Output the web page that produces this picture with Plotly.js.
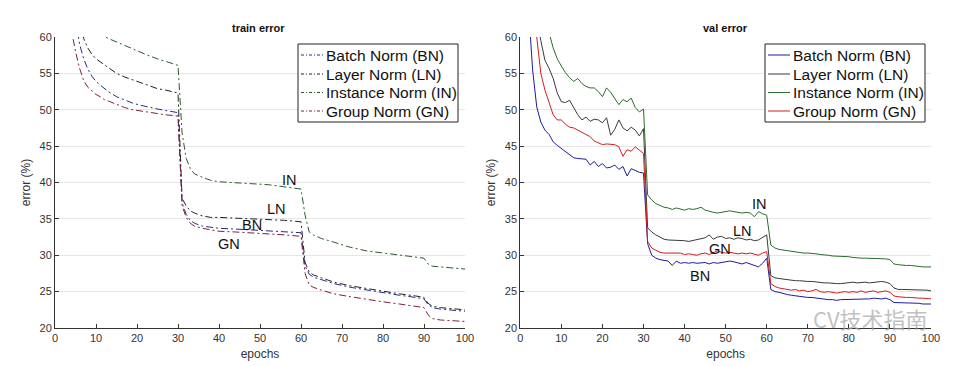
<!DOCTYPE html>
<html>
<head>
<meta charset="utf-8">
<script src="https://cdn.plot.ly/plotly-3.0.1.min.js"></script>
<style>html,body{margin:0;padding:0;background:#fff;}#chart{width:964px;height:366px;}</style>
</head>
<body>
<div id="chart"></div>
<script>
// ---------- train error ----------
const trainEpochs = [2,3,4,5,6,7,8,9,10,11,12,13,15,17,19,21,23,25,27,29,30,31,32,33,34,36,38,40,44,48,52,56,60,61,62,63,65,68,72,76,80,84,88,90,91,92,94,97,100];
const trainBN = [75,70,66,62.5,59.0,57.0,55.6,54.6,53.9,53.4,52.9,52.5,51.8,51.3,50.9,50.6,50.3,50.1,49.9,49.7,49.6,37.2,35.6,34.8,34.4,34.0,33.8,33.7,33.6,33.5,33.4,33.3,33.1,28.5,27.4,27.0,26.6,26.1,25.6,25.2,24.8,24.5,24.2,24.0,23.2,22.8,22.6,22.4,22.3];
const trainLN = [85,78,72,67,63,59.8,58.5,57.6,57.0,56.6,56.2,55.8,55.0,54.5,54.1,53.6,53.2,52.9,52.7,52.4,52.3,37.8,36.8,36.1,35.8,35.4,35.2,35.2,35.1,35.1,34.9,34.8,34.6,29.0,27.7,27.3,26.9,26.3,25.8,25.4,25.0,24.7,24.4,24.2,23.4,23.0,22.8,22.6,22.5];
const trainIN = [72,70,67.5,66,64.5,63.5,62.5,61.7,61.0,60.5,60.1,59.8,59.3,58.8,58.3,57.9,57.4,57.0,56.6,56.3,56.1,46.8,43.3,41.9,41.2,40.7,40.3,40.1,40.0,39.9,39.7,39.4,39.1,35.5,33.2,32.8,32.3,31.8,31.1,30.6,30.3,30.1,29.8,29.6,28.8,28.5,28.4,28.2,28.1];
const trainGN = [72,66,61,58.0,55.7,54.0,53.1,52.6,52.1,51.8,51.4,51.2,50.7,50.3,50.0,49.8,49.6,49.4,49.3,49.2,49.1,36.8,35.2,34.4,34.0,33.7,33.5,33.3,33.2,33.1,33.0,32.8,32.6,27.5,25.9,25.6,25.2,24.7,24.3,23.9,23.6,23.3,23.0,22.8,21.8,21.3,21.1,21.0,20.9];

// ---------- val error ----------
const valEpochs = Array.from({length:100},(_, i) => i + 1);
const valBN = [75,64,55.5,50.4,48.3,47.2,46.6,45.6,45.1,44.7,44.3,43.9,43.4,43.3,43.3,43.2,42.4,42.9,42.2,42.6,42.0,42.1,42.4,41.8,42.2,40.9,41.9,41.6,41.4,41.3,
 31.6,30.0,29.6,29.4,29.3,29.2,28.6,29.2,28.9,29.0,28.9,29.0,28.9,29.0,29.0,28.8,29.0,28.9,29.0,29.1,29.2,29.1,28.9,28.8,29.0,28.8,28.5,28.4,28.9,29.6,
 25.3,25.0,24.9,24.7,24.6,24.5,24.4,24.4,24.3,24.2,24.2,24.1,24.1,24.0,23.9,23.9,23.8,23.9,23.9,23.9,24.0,24.0,23.9,24.0,24.0,24.1,24.0,24.0,24.1,23.9,
 23.5,23.5,23.4,23.4,23.4,23.4,23.4,23.3,23.3,23.3];
const valLN = [85,76,68,63,59.5,56.8,55.7,54.3,52.3,51.1,51.0,51.3,50.3,49.3,48.6,49.0,48.4,48.7,48.6,48.2,48.9,46.5,47.3,48.6,47.5,47.1,47.6,47.2,46.4,47.4,
 33.8,33.2,32.8,32.5,32.2,32.1,32.1,32.0,32.0,32.0,31.9,32.0,32.2,32.3,32.4,32.8,32.2,32.5,32.6,32.3,32.4,32.2,32.4,32.3,32.1,32.2,32.0,32.1,32.4,32.8,
 27.2,26.9,26.8,26.7,26.6,26.6,26.5,26.5,26.4,26.4,26.4,26.3,26.3,26.2,26.2,26.1,26.1,26.1,26.2,26.2,26.3,26.2,26.3,26.3,26.2,26.3,26.3,26.4,26.3,26.1,
 25.5,25.3,25.3,25.3,25.3,25.3,25.3,25.2,25.2,25.1];
const valIN = [90,82,76,71,67,63.5,60.6,58.5,57.0,56.0,55.1,54.4,53.9,54.3,53.6,53.2,53.0,53.0,52.5,51.8,53.0,52.4,51.5,50.7,51.4,51.1,51.6,50.3,49.7,50.1,
 38.3,37.6,37.1,36.8,36.6,36.5,36.3,36.5,36.3,36.2,36.4,36.3,36.4,36.6,36.2,36.0,35.9,35.8,35.9,36.0,36.1,36.0,35.9,35.8,35.9,35.8,35.3,36.0,35.7,35.5,
 31.4,31.0,30.8,30.7,30.6,30.5,30.5,30.4,30.3,30.3,30.3,30.2,30.1,30.1,30.0,29.9,29.9,29.9,29.8,29.8,29.7,29.6,29.6,29.6,29.6,29.6,29.6,29.6,29.5,29.4,
 28.8,28.7,28.6,28.6,28.6,28.5,28.5,28.4,28.4,28.4];
const valGN = [80,72,65,60,55.0,52.7,51.0,49.3,48.6,48.6,48.0,47.6,47.5,47.2,47.0,46.7,46.3,45.7,45.4,45.2,45.3,45.3,45.2,44.9,43.6,44.5,44.3,44.9,44.4,44.0,
 31.9,31.0,30.7,30.4,30.3,30.3,30.2,30.2,30.3,30.1,30.2,30.1,30.0,30.2,30.3,30.1,30.4,30.6,30.4,30.3,30.4,30.3,30.2,30.3,30.2,30.3,30.1,30.0,30.3,30.5,
 26.1,25.7,25.5,25.4,25.3,25.2,25.3,25.1,25.2,25.0,25.1,25.3,25.0,24.9,25.0,24.9,24.8,24.9,25.0,24.9,25.0,24.9,25.1,24.9,25.0,25.1,24.9,25.0,25.1,24.9,
 24.4,24.3,24.2,24.2,24.2,24.1,24.1,24.1,24.1,24.0];

const seriesNames = ['Batch Norm (BN)','Layer Norm (LN)','Instance Norm (IN)','Group Norm (GN)'];
const shortNames = ['BN','LN','IN','GN'];
const yTicks = [20,25,30,35,40,45,50,55,60];
const xTicks = [0,10,20,30,40,50,60,70,80,90,100];

// ---------- styling ----------
const W = 964, H = 366, ML = 55, MR = 33, MT = 37, MB = 38;
const PW = W - ML - MR, PH = H - MT - MB;
const px = v => (v - ML) / PW;          // pixel -> paper x
const py = v => (H - MB - v) / PH;      // pixel -> paper y

const colors = ['#1c1c9c','#3a3a3a','#2c6b2c','#d41c1c'];
const trainColors = ['#2a2a80','#222222','#2c5a2c','#7a2040'];
const trainDash = '7px,3px,2px,3px';

const trainSeries = [trainBN, trainLN, trainIN, trainGN];
const valSeries = [valBN, valLN, valIN, valGN];

const traces = [];
trainSeries.forEach((ys, i) => traces.push({
  x: trainEpochs, y: ys, type: 'scatter', mode: 'lines', name: seriesNames[i],
  line: {color: trainColors[i], width: 1, dash: trainDash}, xaxis: 'x', yaxis: 'y'
}));
valSeries.forEach((ys, i) => traces.push({
  x: valEpochs, y: ys, type: 'scatter', mode: 'lines', name: seriesNames[i],
  line: {color: colors[i], width: 1}, xaxis: 'x2', yaxis: 'y2'
}));

const FAM = 'Liberation Sans, Arial, sans-serif';
const tickFont = {family: FAM, size: 11, color: '#333'};
function xAxis(domain, anchor) {
  return {domain: domain, anchor: anchor, range: [0, 100], tickvals: xTicks, ticks: 'inside', ticklen: 4,
    tickcolor: '#333', showline: true, linecolor: '#333', linewidth: 1, showgrid: false, zeroline: false,
    tickfont: tickFont, title: {text: 'epochs', font: {family: FAM, size: 12, color: '#333'}, standoff: 6}};
}
function yAxis(anchor) {
  return {anchor: anchor, range: [20, 60], tickvals: yTicks, ticks: 'inside', ticklen: 4,
    tickcolor: '#333', showline: true, linecolor: '#333', linewidth: 1, showgrid: true, gridcolor: '#e6e6e6',
    zeroline: false, tickfont: tickFont,
    title: {text: 'error (%)', font: {family: FAM, size: 12, color: '#333'}, standoff: 6}};
}

const annFont = {family: FAM, size: 14.5, color: '#111'};
const trainLabelPos = [[48.0,34.2],[54.1,36.4],[57.3,40.4],[42.5,31.6]];
const valLabelPos = [[43.8,27.1],[54.0,33.4],[58.2,37.1],[48.7,30.8]];

const annotations = [];
const shapes = [];
shortNames.forEach((t, i) => {
  annotations.push({x: trainLabelPos[i][0], y: trainLabelPos[i][1], xref: 'x', yref: 'y', text: t, showarrow: false, font: annFont});
  annotations.push({x: valLabelPos[i][0], y: valLabelPos[i][1], xref: 'x2', yref: 'y2', text: t, showarrow: false, font: annFont});
});
annotations.push({x: px(258), y: py(28), xref: 'paper', yref: 'paper', xanchor: 'center', yanchor: 'middle', text: '<b>train error</b>', showarrow: false,
  font: {family: FAM, size: 11, color: '#111'}});
annotations.push({x: px(725), y: py(28), xref: 'paper', yref: 'paper', xanchor: 'center', yanchor: 'middle', text: '<b>val error</b>', showarrow: false,
  font: {family: FAM, size: 11, color: '#111'}});
annotations.push({x: px(870), y: py(318), xref: 'paper', yref: 'paper', xanchor: 'center', yanchor: 'middle', text: 'CV技术指南', showarrow: false,
  font: {family: 'Noto Sans CJK SC', size: 22, color: 'rgba(165,165,165,0.7)'}});

// ---------- hand-built legends (MATLAB style boxes) ----------
const legendRows = [55, 74, 92.5, 111];
function addLegend(left, right, lineColors, dash) {
  shapes.push({type: 'rect', xref: 'paper', yref: 'paper', x0: px(left), x1: px(right), y0: py(122), y1: py(44),
    line: {color: '#222', width: 1}, fillcolor: '#fff', layer: 'above'});
  seriesNames.forEach((name, i) => {
    shapes.push({type: 'line', xref: 'paper', yref: 'paper', x0: px(left + 3), x1: px(left + 25),
      y0: py(legendRows[i]), y1: py(legendRows[i]), line: {color: lineColors[i], width: 1, dash: dash}, layer: 'above'});
    annotations.push({x: px(left + 26), y: py(legendRows[i]), xref: 'paper', yref: 'paper', xanchor: 'left', yanchor: 'middle',
      text: name, showarrow: false, font: {family: FAM, size: 15.5, color: '#111'}});
  });
}
addLegend(298, 458, trainColors, '3px,2px,1px,2px');
addLegend(765, 925, colors, 'solid');

const layout = {
  width: W, height: H,
  margin: {l: ML, r: MR, t: MT, b: MB},
  paper_bgcolor: '#fff', plot_bgcolor: '#fff',
  xaxis: xAxis([0, px(465)], 'y'),
  yaxis: yAxis('x'),
  xaxis2: xAxis([px(520.3), 1], 'y2'),
  yaxis2: yAxis('x2'),
  annotations: annotations,
  shapes: shapes,
  showlegend: false
};

Plotly.newPlot('chart', traces, layout, {displayModeBar: false, staticPlot: true});
</script>
</body>
</html>
